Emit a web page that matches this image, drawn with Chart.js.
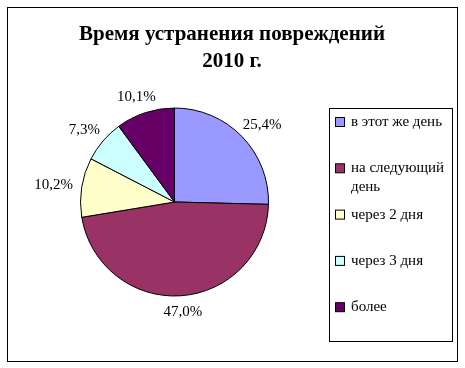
<!DOCTYPE html>
<html lang="ru">
<head>
<meta charset="utf-8">
<title>Время устранения повреждений 2010 г.</title>
<script src="https://cdn.jsdelivr.net/npm/chart.js@4.4.0/dist/chart.umd.min.js"></script>
<style>
  body { margin: 0; background: #fff; }
  canvas { display: block; }
</style>
</head>
<body>
<canvas id="pieChart" width="465" height="368"></canvas>
<script>
// данные диаграммы
const categories = ['в этот же день', 'на следующий день', 'через 2 дня', 'через 3 дня', 'более'];
const shares = [25.4, 47.0, 10.2, 7.3, 10.1];
const sliceColors = ['#9999FF', '#993366', '#FFFFCC', '#CCFFFF', '#660066'];
const titleLines = ['Время устранения повреждений', '2010 г.'];

const serif = '"Liberation Serif", "Times New Roman", serif';

// рамка и заголовок
const framePlugin = {
    id: 'frame',
    beforeDraw(chart) {
        const ctx = chart.ctx;
        ctx.save();
        ctx.fillStyle = '#fff';
        ctx.fillRect(0, 0, chart.width, chart.height);
        ctx.strokeStyle = '#000';
        ctx.lineWidth = 1;
        ctx.strokeRect(7.5, 7.5, 450, 354);
        ctx.fillStyle = '#000';
        ctx.font = 'bold 21px ' + serif;
        ctx.textAlign = 'center';
        ctx.textBaseline = 'alphabetic';
        titleLines.forEach((line, i) => {
            ctx.fillText(line, 232, 40 + i * 27);
        });
        ctx.restore();
    }
};

// подписи долей снаружи круга
const labelPlugin = {
    id: 'sliceLabels',
    afterDatasetsDraw(chart) {
        const ctx = chart.ctx;
        const meta = chart.getDatasetMeta(0);
        ctx.save();
        ctx.font = '15px ' + serif;
        ctx.fillStyle = '#000';
        ctx.textAlign = 'center';
        ctx.textBaseline = 'middle';
        meta.data.forEach((arc, i) => {
            const p = arc.getProps(['x', 'y', 'startAngle', 'endAngle', 'outerRadius'], true);
            const mid = (p.startAngle + p.endAngle) / 2;
            const dx = Math.cos(mid), dy = Math.sin(mid);
            const text = shares[i].toFixed(1).replace('.', ',') + '%';
            const w = ctx.measureText(text).width;
            const r = p.outerRadius + 9;
            const x = p.x + dx * r + dx * w / 2;
            const y = p.y + dy * r + dy * 7;
            ctx.fillText(text, x, y);
        });
        ctx.restore();
    }
};

// легенда в рамке справа
const legendPlugin = {
    id: 'boxLegend',
    afterDraw(chart) {
        const ctx = chart.ctx;
        const left = 329.5, top = 108.5, width = 123, height = 233;
        const slot = 46.3;
        ctx.save();
        ctx.strokeStyle = '#000';
        ctx.lineWidth = 1;
        ctx.strokeRect(left, top, width, height);
        ctx.font = '15px ' + serif;
        ctx.textAlign = 'left';
        ctx.textBaseline = 'middle';
        categories.forEach((label, i) => {
            const cy = 122 + i * slot;
            ctx.fillStyle = sliceColors[i];
            ctx.fillRect(335.5, cy - 4.5, 9, 9);
            ctx.strokeStyle = '#000';
            ctx.strokeRect(335.5, cy - 4.5, 9, 9);
            // перенос строк по ширине
            const words = label.split(' ');
            const lines = [];
            let cur = '';
            words.forEach(word => {
                const test = cur ? cur + ' ' + word : word;
                if (cur && ctx.measureText(test).width > 100) {
                    lines.push(cur);
                    cur = word;
                } else {
                    cur = test;
                }
            });
            lines.push(cur);
            ctx.fillStyle = '#000';
            lines.forEach((line, j) => {
                ctx.fillText(line, 351, cy + j * 19);
            });
        });
        ctx.restore();
    }
};

const ctx = document.getElementById('pieChart').getContext('2d');
const chart = new Chart(ctx, {
    type: 'pie',
    data: {
        labels: categories,
        datasets: [{
            data: shares,
            backgroundColor: sliceColors,
            borderColor: '#000',
            borderWidth: 1
        }]
    },
    options: {
        responsive: false,
        maintainAspectRatio: false,
        devicePixelRatio: 1,
        animation: false,
        layout: {
            padding: { left: 80, right: 196, top: 107, bottom: 71 }
        },
        plugins: {
            legend: { display: false },
            title: { display: false },
            tooltip: { enabled: false }
        }
    },
    plugins: [framePlugin, labelPlugin, legendPlugin]
});
</script>
</body>
</html>
